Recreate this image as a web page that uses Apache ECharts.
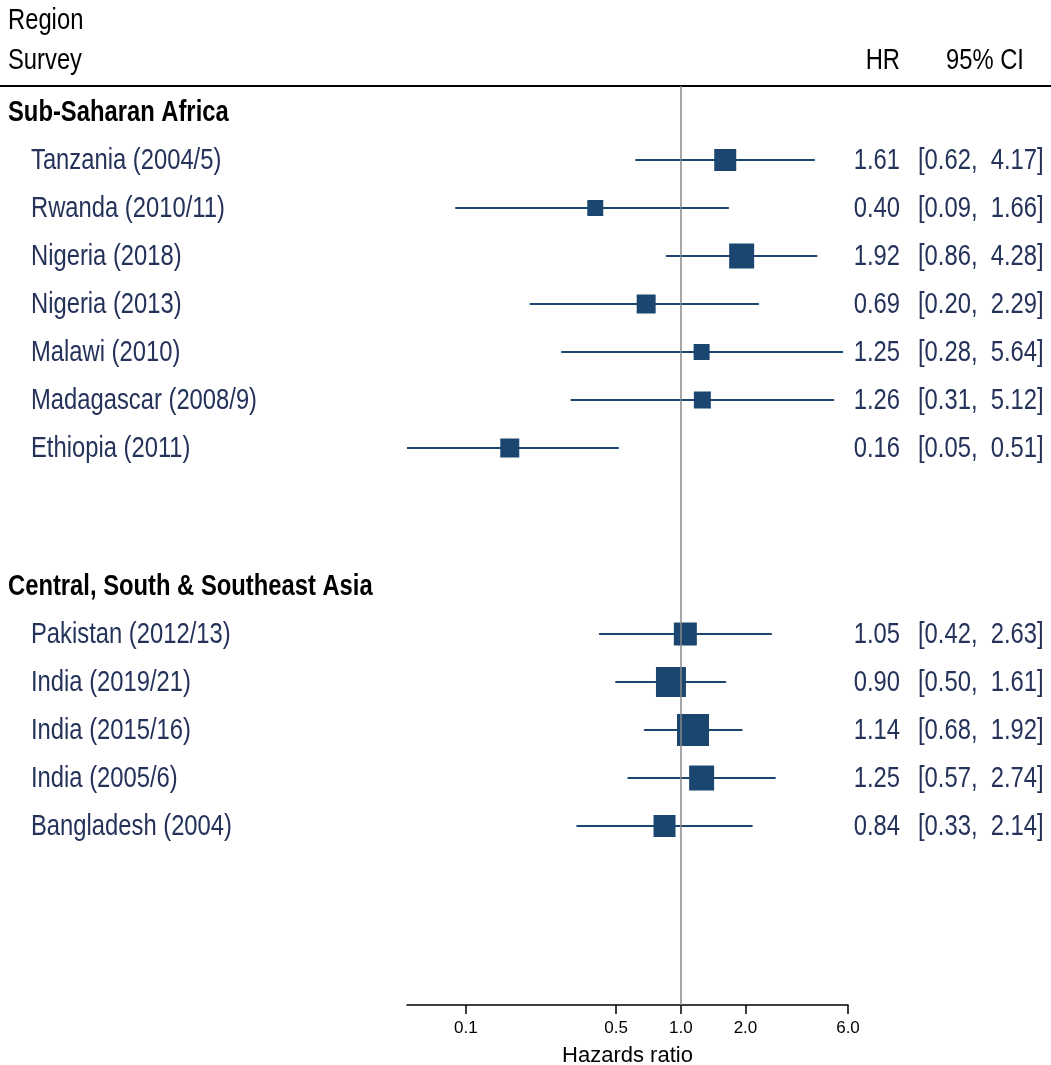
<!DOCTYPE html>
<html>
<head>
<meta charset="utf-8">
<script src="https://cdn.jsdelivr.net/npm/echarts@6/dist/echarts.min.js"></script>
<style>html,body{margin:0;padding:0;background:#fff}#c{width:1051px;height:1065px}</style>
</head>
<body>
<div id="c"></div>
<script>
// ---- data ----
const regionNames = ['Sub-Saharan Africa', 'Central, South & Southeast Asia'];
const ssaSurveys = ['Tanzania (2004/5)', 'Rwanda (2010/11)', 'Nigeria (2018)', 'Nigeria (2013)', 'Malawi (2010)', 'Madagascar (2008/9)', 'Ethiopia (2011)'];
const ssaHR = [1.61, 0.40, 1.92, 0.69, 1.25, 1.26, 0.16];
const ssaLo = [0.62, 0.09, 0.86, 0.20, 0.28, 0.31, 0.05];
const ssaHi = [4.17, 1.66, 4.28, 2.29, 5.64, 5.12, 0.51];
const ssaWeight = [22, 16, 25, 19, 16, 17, 19];
const asiaSurveys = ['Pakistan (2012/13)', 'India (2019/21)', 'India (2015/16)', 'India (2005/6)', 'Bangladesh (2004)'];
const asiaHR = [1.05, 0.90, 1.14, 1.25, 0.84];
const asiaLo = [0.42, 0.50, 0.68, 0.57, 0.33];
const asiaHi = [2.63, 1.61, 1.92, 2.74, 2.14];
const asiaWeight = [23, 30, 32, 25, 22];
const xTickValues = [0.1, 0.5, 1, 2, 6];
const xTickLabels = ['0.1', '0.5', '1.0', '2.0', '6.0'];

// ---- layout helpers ----
const GROUP_GAP = 1.875;
const groups = [
  {name: regionNames[0], s: ssaSurveys, hr: ssaHR, lo: ssaLo, hi: ssaHi, w: ssaWeight},
  {name: regionNames[1], s: asiaSurveys, hr: asiaHR, lo: asiaLo, hi: asiaHi, w: asiaWeight}
];
const labelRows = []; const dataRows = [];
let r = 0;
groups.forEach(g => {
  labelRows.push({pos: r, text: g.name, header: true}); r += 1;
  g.s.forEach((name, i) => {
    const row = {pos: r, text: name, header: false, hr: g.hr[i], lo: g.lo[i], hi: g.hi[i], w: g.w[i]};
    labelRows.push(row); dataRows.push(row); r += 1;
  });
  r += GROUP_GAP;
});

const F = '"Liberation Sans", Arial, sans-serif';
const NAVY = '#25335a';
const MARK = '#1b4670';
const SX = 0.82; // condensed look of the original typeface
const yMin = -0.5417, yMax = 18.604;

const chart = echarts.init(document.getElementById('c'), null, {renderer: 'canvas'});
chart.setOption({
  animation: false,
  backgroundColor: '#fff',
  grid: {left: 407, right: 203, top: 86, bottom: 60, containLabel: false, outerBoundsMode: 'none'},
  xAxis: {
    type: 'log', logBase: 10, min: 0.0532, max: 6,
    axisLine: {show: true, onZero: false, lineStyle: {color: '#000', width: 1.5}},
    axisTick: {show: true, length: 9, lineStyle: {color: '#000', width: 1.5}, customValues: xTickValues},
    axisLabel: {
      customValues: xTickValues, fontFamily: F, fontSize: 17, color: '#000', margin: 15,
      formatter: v => { const i = xTickValues.findIndex(t => Math.abs(t - v) < 1e-6); return i >= 0 ? xTickLabels[i] : ''; }
    },
    minorTick: {show: false}, splitLine: {show: false},
    name: 'Hazards ratio', nameLocation: 'middle', nameGap: 40,
    nameTextStyle: {fontFamily: F, fontSize: 22, color: '#000'}
  },
  yAxis: {
    type: 'value', inverse: true, min: yMin, max: yMax,
    axisLine: {show: false}, axisTick: {show: false}, splitLine: {show: false}, axisLabel: {show: false}
  },
  series: [
    {
      type: 'custom', name: 'CI', clip: true,
      data: dataRows.map(o => [o.lo, o.hi, o.pos]),
      renderItem: (params, api) => {
        const a = api.coord([api.value(0), api.value(2)]);
        const b = api.coord([api.value(1), api.value(2)]);
        return {type: 'line', shape: {x1: a[0], y1: a[1], x2: b[0], y2: b[1]}, style: {stroke: MARK, lineWidth: 2.2, lineCap: 'round'}};
      },
      markLine: {
        silent: true, symbol: 'none', label: {show: false},
        lineStyle: {color: '#888', width: 1.5, type: 'solid'},
        data: [{xAxis: 1}]
      },
      z: 2
    },
    {
      type: 'scatter', name: 'HR', symbol: 'rect',
      data: dataRows.map(o => [o.hr, o.pos, o.w]),
      symbolSize: v => v[2],
      itemStyle: {color: MARK, opacity: 1},
      z: 3
    }
  ]
});

// ---- text columns (real text, condensed), positioned through the chart's own y scale ----
function txt(x, y, text, opts) {
  return {
    type: 'text', x: x, y: y, scaleX: SX, scaleY: 1, silent: true,
    style: Object.assign({text: text, x: 0, y: 0, textVerticalAlign: 'middle', fill: '#000', font: '29px ' + F}, opts || {})
  };
}
const yPix = v => chart.convertToPixel({yAxisIndex: 0}, v);
const g = [];
g.push(txt(8, 21, 'Region'));
g.push(txt(8, 61, 'Survey'));
g.push(txt(900, 61, 'HR', {textAlign: 'right'}));
g.push(txt(946, 61, '95% CI', {textAlign: 'left'}));
g.push({type: 'line', silent: true, shape: {x1: 0, y1: 86, x2: 1051, y2: 86}, style: {stroke: '#000', lineWidth: 2}});
labelRows.forEach(o => {
  const y = yPix(o.pos) + 1;
  if (o.header) g.push(txt(8, y, o.text, {font: 'bold 29px ' + F}));
  else g.push(txt(31, y, o.text, {fill: NAVY}));
});
dataRows.forEach(o => {
  const y = yPix(o.pos) + 1;
  g.push(txt(900, y, o.hr.toFixed(2), {fill: NAVY, textAlign: 'right'}));
  g.push(txt(918, y, '[' + o.lo.toFixed(2) + ',  ' + o.hi.toFixed(2) + ']', {fill: NAVY, textAlign: 'left'}));
});
chart.setOption({graphic: g});
</script>
</body>
</html>
